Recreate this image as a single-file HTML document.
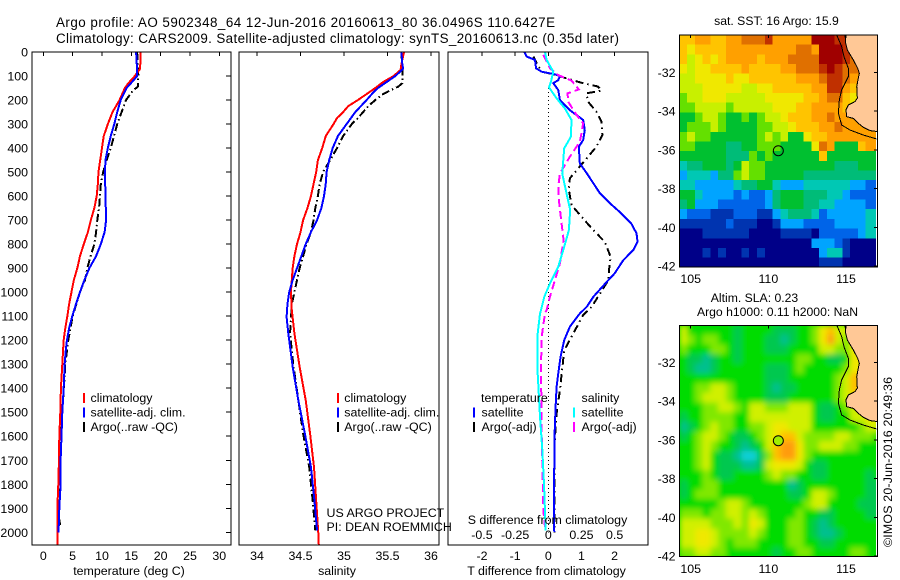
<!DOCTYPE html>
<html lang="en">
<head>
<meta charset="utf-8">
<title>Argo profile 5902348_64</title>
<style>
html,body{margin:0;padding:0;background:#fff;}
svg{display:block;font-family:"Liberation Sans",sans-serif;font-size:12.4px;fill:#000;}
.title{font-size:13.4px;}
.small{font-size:12.2px;}
.crisp{shape-rendering:crispEdges;}
</style>
</head>
<body>
<svg id="chart" xmlns="http://www.w3.org/2000/svg" width="900" height="580" viewBox="0 0 900 580">
<defs>
<clipPath id="clip-t"><rect x="32" y="52" width="199" height="493"/></clipPath>
<clipPath id="clip-s"><rect x="239" y="52" width="200" height="493"/></clipPath>
<clipPath id="clip-d"><rect x="448" y="52" width="200" height="493"/></clipPath>
<clipPath id="clip-m1"><rect x="679.5" y="35" width="196.5" height="232"/></clipPath>
<clipPath id="clip-m2"><rect x="679.5" y="325.5" width="196.5" height="231"/></clipPath>
<clipPath id="clip-m1-land"><rect x="679.5" y="35" width="198" height="232"/></clipPath>
<clipPath id="clip-m2-land"><rect x="679.5" y="325.5" width="198" height="231"/></clipPath>
<filter id="smooth" x="-5%" y="-5%" width="110%" height="110%"><feGaussianBlur stdDeviation="2.8"/></filter>
</defs>

<text class="title" x="56" y="27" textLength="499" lengthAdjust="spacing">Argo profile: AO 5902348_64 12-Jun-2016 20160613_80 36.0496S 110.6427E</text>
<text class="title" x="56" y="43" textLength="563" lengthAdjust="spacing">Climatology: CARS2009. Satellite-adjusted climatology: synTS_20160613.nc (0.35d later)</text>

<g id="panel-t"></g>
<g id="panel-s"></g>
<g id="panel-d"></g>
<g id="map-sst"></g>
<g id="map-sla"></g>

<text x="129" y="575" text-anchor="middle">temperature (deg C)</text>
<text x="337" y="575" text-anchor="middle">salinity</text>
<text x="546.5" y="575" text-anchor="middle">T difference from climatology</text>
<text x="547.5" y="524" text-anchor="middle">S difference from climatology</text>

<text x="326.5" y="517">US ARGO PROJECT</text>
<text x="326.5" y="531">PI: DEAN ROEMMICH</text>

<text class="small" x="776.5" y="25" text-anchor="middle">sat. SST: 16 Argo: 15.9</text>
<text class="small" x="754.5" y="302" text-anchor="middle">Altim. SLA: 0.23</text>
<text class="small" x="777.5" y="316" text-anchor="middle">Argo h1000: 0.11 h2000: NaN</text>
<text transform="translate(892,547) rotate(-90)" textLength="170" lengthAdjust="spacing">©IMOS 20-Jun-2016 20:49:36</text>
</svg>

<script>
/* ---------- axis ticks ---------- */
const depthTicks = [0,100,200,300,400,500,600,700,800,900,1000,1100,1200,1300,1400,1500,1600,1700,1800,1900,2000];
const tempTicks = [0,5,10,15,20,25,30];
const salTicks = [34,34.5,35,35.5,36];
const salTickLabels = ['34','34.5','35','35.5','36'];
const tDiffTicks = [-2,-1,0,1,2];
const sDiffTicks = [-0.5,-0.25,0,0.25,0.5];
const sDiffTickLabels = ['-0.5','-0.25','0','0.25','0.5'];
const lonTicks = [105,110,115];
const latTicks = [-32,-34,-36,-38,-40,-42];

/* ---------- temperature profiles ---------- */
const tempClimDepth = [0,70,100,130,150,200,250,300,350,400,450,500,550,600,650,700,750,800,850,900,950,1000,1050,1100,1150,1200,1300,1400,1500,1600,1700,1800,1900,2000,2050];
const tempClimValues = [16.6,16.5,15.6,14.5,13.9,13.0,11.8,11.0,10.3,10.0,9.7,9.4,9.3,9.1,8.7,8.1,7.6,6.9,6.25,5.8,5.2,4.8,4.4,4.1,3.75,3.47,3.24,3.0,2.9,2.73,2.67,2.56,2.39,2.39,2.39];
const tempSatDepth = [0,30,100,120,150,200,250,300,350,400,450,500,600,700,750,800,850,900,950,1000,1050,1100,1150,1200,1250,1300,1400,1500,1600,1700,1800,1900,2000];
const tempSatValues = [15.8,15.9,16.0,15.3,14.2,13.2,12.6,12.1,11.5,11.0,10.6,10.5,10.6,10.7,10.45,9.8,9.0,7.85,7.0,6.25,5.57,4.94,4.4,4.03,3.8,3.64,3.47,3.24,3.1,2.95,2.95,2.73,2.6];
const tempArgoDepth = [0,100,145,160,200,250,300,350,400,450,500,550,600,650,700,750,800,850,900,950,1000,1100,1200,1300,1400,1500,1600,1700,1800,1900,1970];
const tempArgoValues = [16.0,16.2,16.1,15.3,14.1,13.35,12.6,12.05,11.5,10.8,10.2,9.8,9.66,9.5,9.2,9.0,8.7,8.07,7.5,7.1,6.25,5.0,4.26,3.75,3.5,3.24,3.0,2.84,2.73,2.6,2.84];

/* ---------- salinity profiles ---------- */
const salClimDepth = [0,50,75,100,125,150,175,200,225,250,275,300,350,400,450,500,550,600,650,700,750,800,850,900,1000,1075,1172,1311,1450,1589,1728,1867,2006,2050];
const salClimValues = [35.69,35.66,35.65,35.57,35.45,35.36,35.26,35.16,35.05,34.99,34.92,34.88,34.79,34.75,34.70,34.68,34.65,34.62,34.58,34.53,34.50,34.46,34.43,34.41,34.39,34.40,34.43,34.49,34.56,34.61,34.655,34.68,34.705,34.71];
const salSatDepth = [0,50,70,100,125,150,175,200,250,300,350,400,450,500,550,600,650,700,750,800,850,900,950,1000,1050,1103,1172,1311,1450,1589,1728,1867,1992];
const salSatValues = [35.66,35.67,35.68,35.59,35.49,35.39,35.32,35.26,35.13,35.03,34.93,34.87,34.83,34.80,34.79,34.77,34.74,34.69,34.62,34.56,34.51,34.46,34.41,34.37,34.35,34.34,34.36,34.41,34.475,34.55,34.62,34.66,34.69];
const salArgoDepth = [0,70,130,145,160,175,200,225,250,275,300,350,400,450,500,550,600,650,700,750,800,850,900,950,1000,1050,1172,1311,1450,1589,1728,1867,1992];
const salArgoValues = [35.66,35.67,35.67,35.62,35.53,35.45,35.36,35.28,35.22,35.16,35.09,34.99,34.92,34.84,34.76,34.72,34.70,34.67,34.65,34.62,34.57,34.53,34.49,34.46,34.43,34.40,34.38,34.42,34.475,34.53,34.60,34.64,34.67];

/* ---------- difference profiles ---------- */
const dTSatDepth = [0,19,33,68,82,93,100,117,130,158,200,242,283,325,367,394,464,505,547,589,630,672,714,755,790,825,867,922,950,1019,1061,1089,1144,1200,1269,1339,1394,1478,1589,1728,1867,1999];
const dTSatValues = [-0.72,-0.65,-0.40,-0.37,-0.2,0.2,0.35,0.3,0.15,0.3,0.35,0.65,1.05,1.1,1.05,0.92,0.95,1.16,1.36,1.56,1.86,2.2,2.5,2.66,2.69,2.56,2.26,2.0,1.81,1.36,1.16,0.95,0.65,0.48,0.37,0.3,0.25,0.22,0.19,0.18,0.17,0.18];
const dTArgoDepth = [19,47,82,96,110,128,144,161,172,207,249,290,346,394,436,485,526,575,637,686,742,790,853,908,950,1012,1061,1096,1186,1242,1408,1506,1644,1800,2000];
const dTArgoValues = [-0.45,-0.35,-0.2,0.25,0.55,1.0,1.5,1.6,1.15,1.2,1.45,1.6,1.63,1.45,1.2,0.9,0.65,0.62,0.7,1.0,1.36,1.7,1.88,1.83,1.81,1.53,1.31,1.05,0.7,0.48,0.35,0.25,0.18,0.19,0.18];
const dSSatDepth = [0,33,82,124,147,193,235,283,353,401,506,589,658,742,811,894,964,1019,1075,1089,1172,1339,1519,1658,1797,1992];
const dSSatValues = [-0.025,-0.0125,0.0375,0.02,0.005,0.0625,0.125,0.175,0.17,0.12,0.105,0.1375,0.165,0.155,0.12,0.075,0.0125,-0.03,-0.055,-0.0625,-0.08,-0.08,-0.0625,-0.045,-0.0325,-0.02];
const dSArgoDepth = [12,68,96,119,156,172,207,262,297,339,374,436,506,561,631,714,783,881,950,1019,1075,1089,1186,1311,1589,1908,1978];
const dSArgoValues = [-0.0375,0.0125,0.075,0.175,0.23,0.145,0.15,0.2125,0.2625,0.25,0.2375,0.1625,0.0875,0.075,0.0825,0.1,0.115,0.0875,0.05,0.0125,-0.0125,-0.025,-0.05,-0.055,-0.05,-0.0375,-0.025];

/* ---------- map data: colour-bin levels read per half-degree cell ---------- */
const sstLevels = [
[10,10,11,11,10,10,11,11,12,12,12,13,11,11,11,11,11,14,14,14,13,13,13,13,13,13],
[10,9,10,10,10,10,11,11,11,11,11,11,11,11,11,12,12,11,14,14,14,13,13,13,13,13],
[10,8,9,10,9,10,11,11,11,11,10,11,11,11,12,12,12,12,14,14,14,13,12,12,12,12],
[9,8,9,9,10,10,10,10,11,10,10,10,10,11,11,12,12,12,13,14,13,12,12,12,12,12],
[8,8,9,9,9,9,10,9,9,10,10,10,10,10,10,11,11,11,12,13,13,12,11,11,11,11],
[8,8,8,9,9,9,9,9,8,8,9,9,10,10,10,10,10,11,11,13,13,11,10,10,10,10],
[7,8,8,9,9,9,8,8,8,8,8,9,9,9,9,9,10,10,11,12,12,10,9,9,9,9],
[7,7,8,8,8,8,7,8,8,8,8,8,9,9,9,10,10,11,11,11,11,10,9,9,9,9],
[6,6,7,8,8,7,6,6,7,6,7,8,8,9,10,10,10,11,11,12,11,11,11,11,11,11],
[6,7,7,7,8,7,6,6,6,6,7,7,8,8,9,10,10,10,11,11,12,11,11,11,11,11],
[7,8,7,7,6,6,6,6,6,6,7,8,7,8,6,6,9,10,10,11,11,11,11,11,11,11],
[7,7,6,6,6,6,5,5,6,6,7,7,7,6,6,6,6,9,12,11,6,6,6,10,11,11],
[6,6,6,6,6,6,5,5,5,7,6,7,6,6,6,6,6,6,10,6,6,6,6,6,6,6],
[4,5,5,6,6,6,5,6,8,7,7,6,6,6,6,6,6,6,6,6,5,5,5,6,6,6],
[3,4,4,4,3,5,5,7,8,7,7,6,6,6,6,6,5,5,5,5,5,5,5,5,5,5],
[4,4,3,3,3,3,3,4,5,5,6,6,4,3,3,3,4,4,4,4,4,4,3,3,2,2],
[6,6,4,3,3,3,3,2,3,2,2,3,5,6,6,6,5,5,5,4,4,3,2,2,2,2],
[5,6,3,3,3,2,2,2,2,2,2,3,5,6,6,6,5,5,4,4,3,3,3,3,2,2],
[3,2,2,2,1,1,1,2,2,2,1,1,3,4,5,5,5,4,2,3,3,3,3,3,4,4],
[1,1,1,1,1,1,2,1,1,1,0,0,1,3,3,3,2,2,2,2,3,3,3,3,4,4],
[0,0,0,1,1,1,1,1,1,0,0,0,0,1,1,1,1,0,2,2,2,2,2,3,4,4],
[0,0,0,0,0,0,0,0,0,0,0,0,0,0,0,0,0,3,3,3,2,1,0,0,0,0],
[0,0,0,1,0,1,0,0,1,0,1,0,0,0,0,0,0,0,3,4,4,1,0,0,0,0],
[0,0,0,0,0,0,0,0,0,0,0,0,0,0,0,0,0,0,1,1,1,0,0,0,0,0]
];
const slaLevels = [
[5,3,3,3,3,3,3,2,3,3,3,3,2,2,2,3,3,4,6,7,5,5,6,6,6,6],
[5,4,3,4,4,3,3,2,3,3,3,2,2,1,2,3,3,4,6,8,5,4,5,5,5,5],
[4,3,3,3,4,4,3,2,3,3,3,2,2,2,3,3,3,3,5,5,4,4,6,6,6,6],
[3,2,2,1,2,3,3,2,3,3,3,3,3,3,3,4,4,3,3,2,2,3,6,6,6,6],
[3,2,1,1,2,3,3,3,3,3,3,2,2,2,3,4,3,3,3,3,3,4,6,6,6,6],
[3,3,3,3,3,3,3,3,3,3,3,2,2,2,3,3,3,3,3,3,4,5,7,7,7,7],
[3,3,4,4,5,5,4,3,3,3,3,2,1,2,2,3,3,3,3,3,4,5,7,7,7,7],
[3,3,4,5,5,5,4,3,3,3,3,2,2,2,3,3,3,3,3,3,4,5,6,6,6,6],
[3,3,3,4,4,5,5,4,3,5,5,4,4,4,5,5,5,3,2,2,3,4,5,5,5,5],
[2,3,3,4,4,4,4,3,3,5,5,5,5,5,5,5,5,3,2,2,3,3,5,5,6,6],
[1,2,3,4,5,4,4,3,3,4,4,5,6,6,5,5,5,3,3,3,3,3,3,4,5,5],
[2,3,4,5,5,4,3,2,2,3,4,5,6,7,7,5,4,4,4,4,5,5,4,4,4,3],
[3,3,4,5,4,3,3,2,1,2,3,5,7,8,8,6,4,4,5,5,5,4,4,3,3,3],
[3,3,4,5,3,2,2,1,0,0,2,4,7,8,8,6,4,3,3,3,3,3,3,3,3,3],
[3,3,4,5,3,2,2,2,1,1,2,5,6,6,6,5,3,2,2,3,3,3,3,3,3,3],
[3,3,3,4,3,2,2,3,3,3,3,4,5,4,4,3,3,2,2,3,3,3,3,3,2,3],
[2,3,3,4,4,3,3,3,3,3,3,3,3,3,1,2,3,3,3,3,3,3,3,3,2,2],
[2,3,4,4,4,3,3,3,3,3,3,3,3,3,2,2,3,5,5,4,3,3,3,3,2,2],
[3,3,3,3,3,4,5,5,4,3,3,3,3,3,3,3,4,5,5,3,3,3,3,2,2,2],
[4,4,4,3,4,4,5,5,4,5,4,3,3,3,3,4,3,3,2,2,3,3,3,3,2,2],
[5,5,5,5,4,4,4,5,4,6,5,3,3,3,4,4,3,2,1,2,3,3,3,3,3,3],
[5,5,6,6,5,4,4,4,4,5,4,3,3,3,4,4,3,2,1,1,2,3,3,3,3,3],
[5,5,6,6,5,4,3,4,4,4,3,3,3,3,4,4,3,3,2,2,3,3,3,3,3,3],
[4,4,5,5,4,4,3,3,3,3,3,3,2,3,3,4,4,3,3,3,3,3,4,4,3,3]
];
const gridLonStart = 104.27;
const gridLatStart = -30.07;
const gridStep = 0.5;
const coastLon = [114.94,114.98,115.09,115.47,115.75,115.86,115.79,115.69,115.73,115.58,115.15,115.0,115.04,115.47,115.79,116.12,116.55,117.02];
const coastLat = [-30.07,-30.50,-30.85,-31.36,-31.79,-32.05,-32.31,-32.74,-33.34,-33.51,-33.69,-33.94,-34.29,-34.38,-34.63,-34.84,-35.01,-35.06];
const isobathLon = [114.40,114.72,114.87,115.15,115.15,114.72,114.57,114.51,114.72,115.26,116.12,116.97];
const isobathLat = [-30.07,-30.67,-31.19,-31.79,-32.22,-32.91,-33.43,-34.12,-34.72,-34.98,-35.24,-35.44];
const floatLon = [110.6427];
const floatLat = [-36.0496];

/* ---------- palettes ---------- */
const sstPalette = ['#000088','#0034b0','#0064e8','#00a4ff','#00c8b4','#00bc78','#00c030','#64e000','#c8f000','#f0e800','#ffc400','#ffa000','#e07000','#c03000','#a00000'];
const slaPalette = ['#10d0d8','#00c090','#00c850','#00dc00','#80e800','#d0f000','#f0e800','#ffc000','#ff9c10'];

/* ---------- axis functions ---------- */
const SVGNS = 'http://www.w3.org/2000/svg';
const yDepth = d => 52 + d * 0.24015;
const xTemp = v => 43.3 + v * 5.867;
const xSal = v => 257 + (v - 34) * 87;
const xDT = v => 548.3 + v * 33.17;
const xDS = v => xDT(v * 4);
const xLon = v => 690.7 + (v - 105) * 15.53;
const yLat1 = v => 72.3 + (-32 - v) * 19.37;
const yLat2 = v => 362.3 + (-32 - v) * 19.37;

function make(tag, attrs, parent, txt) {
  const el = document.createElementNS(SVGNS, tag);
  for (const k in attrs) el.setAttribute(k, attrs[k]);
  if (txt !== undefined) el.textContent = txt;
  parent.appendChild(el);
  return el;
}
function pathOf(xs, ys) {
  return xs.map((x, i) => (i ? 'L' : 'M') + x.toFixed(2) + ' ' + ys[i].toFixed(2)).join('');
}
function drawProfile(parent, clip, depths, vals, xf, color, dash, name) {
  const el = make('path', {
    d: pathOf(vals.map(xf), depths.map(yDepth)),
    fill: 'none', stroke: color, 'stroke-width': 2,
    'stroke-dasharray': dash || 'none',
    'clip-path': 'url(#' + clip + ')',
    class: 'crisp'
  }, parent);
  
  
}
function drawBox(parent, x, y, w, h, name) {
  const el = make('rect', {x: x, y: y, width: w, height: h, fill: 'none', stroke: '#000', 'stroke-width': 1, class: 'crisp'}, parent);
  
  
}
function drawTopTicks(parent, ticks, xf, top, len, name) {
  ticks.forEach(t => {
    const el = make('line', {x1: xf(t), x2: xf(t), y1: top, y2: top + len, stroke: '#000', class: 'crisp'}, parent);
    
    
  });
}
function drawXLabels(parent, ticks, labels, xf, y, name) {
  ticks.forEach((t, i) => {
    const el = make('text', {x: xf(t), y: y, 'text-anchor': 'middle'}, parent, labels[i]);
    
    
  });
}
function drawLegend(parent, barX, textX, rows, name) {
  rows.forEach(r => {
    const bar = make('rect', {x: barX, y: r.y - 9, width: 2, height: 10, fill: r.c, class: 'crisp'}, parent);
    
    
    const t = make('text', {x: textX, y: r.y}, parent, r.t);
    
    
  });
}

/* ---------- temperature panel ---------- */
const gT = document.getElementById('panel-t');
drawProfile(gT, 'clip-t', tempArgoDepth, tempArgoValues, xTemp, '#000', '8 3 1.5 3', 'temperature-argo-line');
drawProfile(gT, 'clip-t', tempClimDepth, tempClimValues, xTemp, '#ff0000', '', 'temperature-climatology-line');
drawProfile(gT, 'clip-t', tempSatDepth, tempSatValues, xTemp, '#0000ff', '', 'temperature-satellite-line');
drawBox(gT, 32, 52, 199, 493, 'temperature-axes-box');
drawTopTicks(gT, tempTicks, xTemp, 52, 4, 'temperature-top-tick');
drawXLabels(gT, tempTicks, tempTicks.map(String), xTemp, 560, 'temperature-tick-label');
depthTicks.forEach(d => {
  const tk = make('line', {x1: 226, x2: 231, y1: yDepth(d), y2: yDepth(d), stroke: '#000', class: 'crisp'}, gT);
  
  
  const lb = make('text', {x: 28, y: yDepth(d) + 4.5, 'text-anchor': 'end'}, gT, String(d));
  
  
});
drawLegend(gT, 83, 90.5, [
  {y: 402, c: '#ff0000', t: 'climatology'},
  {y: 416.5, c: '#0000ff', t: 'satellite-adj. clim.'},
  {y: 431, c: '#000', t: 'Argo(..raw -QC)'}
], 'temperature-legend');

/* ---------- salinity panel ---------- */
const gS = document.getElementById('panel-s');
drawProfile(gS, 'clip-s', salArgoDepth, salArgoValues, xSal, '#000', '8 3 1.5 3', 'salinity-argo-line');
drawProfile(gS, 'clip-s', salClimDepth, salClimValues, xSal, '#ff0000', '', 'salinity-climatology-line');
drawProfile(gS, 'clip-s', salSatDepth, salSatValues, xSal, '#0000ff', '', 'salinity-satellite-line');
drawBox(gS, 239, 52, 200, 493, 'salinity-axes-box');
drawTopTicks(gS, salTicks, xSal, 52, 4, 'salinity-top-tick');
drawXLabels(gS, salTicks, salTickLabels, xSal, 560, 'salinity-tick-label');
drawLegend(gS, 337, 344.3, [
  {y: 402, c: '#ff0000', t: 'climatology'},
  {y: 416.5, c: '#0000ff', t: 'satellite-adj. clim.'},
  {y: 431, c: '#000', t: 'Argo(..raw -QC)'}
], 'salinity-legend');

/* ---------- difference panel ---------- */
const gD = document.getElementById('panel-d');
const zeroLine = make('line', {x1: xDT(0), x2: xDT(0), y1: yDepth(150), y2: yDepth(2000), stroke: '#000', 'stroke-width': 1, 'stroke-dasharray': '1 3', class: 'crisp'}, gD);


drawProfile(gD, 'clip-d', dTArgoDepth, dTArgoValues, xDT, '#000', '8 4 1.5 4', 'dt-argo-line');
drawProfile(gD, 'clip-d', dTSatDepth, dTSatValues, xDT, '#0000ff', '', 'dt-satellite-line');
drawProfile(gD, 'clip-d', dSArgoDepth, dSArgoValues, xDS, '#ff00ff', '8 4', 'ds-argo-line');
drawProfile(gD, 'clip-d', dSSatDepth, dSSatValues, xDS, '#00ffff', '', 'ds-satellite-line');
drawBox(gD, 448, 52, 200, 493, 'difference-axes-box');
drawTopTicks(gD, tDiffTicks, xDT, 52, 4, 'difference-top-tick');
drawXLabels(gD, tDiffTicks, tDiffTicks.map(String), xDT, 560, 't-difference-tick-label');
drawXLabels(gD, sDiffTicks, sDiffTickLabels, xDS, 539, 's-difference-tick-label');
const hT = make('text', {x: 481, y: 402}, gD, 'temperature');


const hS = make('text', {x: 581.5, y: 402}, gD, 'salinity');


drawLegend(gD, 473, 481.5, [
  {y: 416.5, c: '#0000ff', t: 'satellite'},
  {y: 431, c: '#000', t: 'Argo(-adj)'}
], 'difference-temperature-legend');
drawLegend(gD, 573, 581.5, [
  {y: 416.5, c: '#00ffff', t: 'satellite'},
  {y: 431, c: '#ff00ff', t: 'Argo(-adj)'}
], 'difference-salinity-legend');

/* ---------- maps ---------- */
function drawMap(g, opts) {
  const field = make('g', {'clip-path': 'url(#' + opts.clip + ')'}, g);
  
  
  const backing = make('rect', {x: 679, y: opts.top, width: 198, height: opts.h, fill: opts.back}, field);
  
  
  const cells = make('g', opts.blur ? {filter: 'url(#smooth)'} : {}, field);
  opts.levels.forEach((row, r) => {
    row.forEach((v, c) => {
      const x0 = xLon(gridLonStart + c * gridStep);
      const x1 = xLon(gridLonStart + (c + 1) * gridStep);
      const y0 = opts.yLat(gridLatStart - r * gridStep);
      const y1 = opts.yLat(gridLatStart - (r + 1) * gridStep);
      const cell = make('rect', {x: x0, y: y0, width: x1 - x0 + 0.5, height: y1 - y0 + 0.5, fill: opts.palette[v], class: 'crisp'}, cells);
      
      
    });
  });
  const land = make('g', {'clip-path': 'url(#' + opts.clip + '-land)'}, g);
  const coastXs = coastLon.map(xLon);
  const coastYs = coastLat.map(opts.yLat);
  const fill = make('path', {d: pathOf(coastXs, coastYs) + 'L' + xLon(117.3) + ' ' + coastYs[coastYs.length - 1] + 'L' + xLon(117.3) + ' ' + opts.top + 'Z', fill: '#ffc896'}, land);
  
  
  const coast = make('path', {d: pathOf(coastXs, coastYs), fill: 'none', stroke: '#000', 'stroke-width': 1, class: 'crisp'}, land);
  
  
  const iso = make('path', {d: pathOf(isobathLon.map(xLon), isobathLat.map(opts.yLat)), fill: 'none', stroke: '#000', 'stroke-width': 1, class: 'crisp'}, land);
  
  
  drawBox(g, 679.5, opts.top, 198, opts.h, opts.name + '-axes-box');
  drawTopTicks(g, lonTicks, xLon, opts.top, 3, opts.name + '-lon-tick');
  drawXLabels(g, lonTicks, lonTicks.map(String), xLon, opts.labelY, opts.name + '-lon-label');
  latTicks.forEach(lat => {
    const y = opts.yLat(lat);
    const tk = make('line', {x1: 874, x2: 877.5, y1: y, y2: y, stroke: '#000', class: 'crisp'}, g);
    
    
    const lb = make('text', {x: 675.5, y: y + 4.5, 'text-anchor': 'end'}, g, String(lat));
    
    
  });
  const dot = make('circle', {cx: xLon(floatLon[0]), cy: opts.yLat(floatLat[0]), r: 5, fill: opts.dotFill, stroke: '#000', 'stroke-width': 1}, g);
  
  
}
drawMap(document.getElementById('map-sst'), {
  name: 'sst-map', clip: 'clip-m1', top: 35, h: 232, levels: sstLevels, palette: sstPalette,
  yLat: yLat1, back: '#00c030', blur: false, labelY: 283, dotFill: 'none'
});
drawMap(document.getElementById('map-sla'), {
  name: 'sla-map', clip: 'clip-m2', top: 325.5, h: 231, levels: slaLevels, palette: slaPalette,
  yLat: yLat2, back: '#00dc00', blur: true, labelY: 573, dotFill: '#a0ee00'
});
</script>
</body>
</html>
